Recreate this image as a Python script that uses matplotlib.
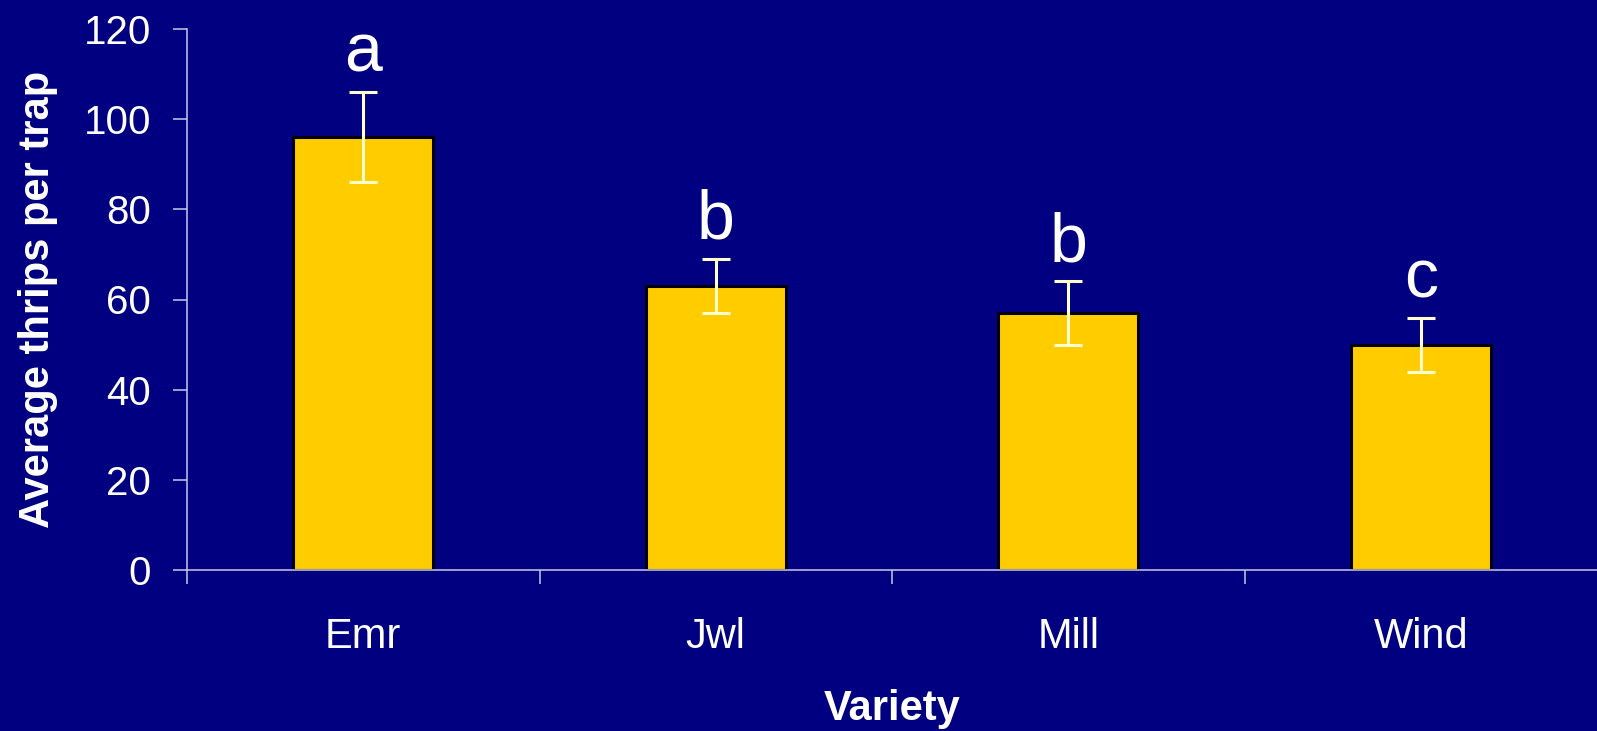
import matplotlib
matplotlib.use("Agg")
import matplotlib.pyplot as plt
import numpy as np

plt.rcParams['font.family'] = ['Liberation Sans', 'DejaVu Sans']

varieties = ["Emr", "Jwl", "Mill", "Wind"]
mean_thrips = [96, 63, 57, 50]
std_err = [10, 6, 7, 6]
group_letters = ["a", "b", "b", "c"]
y_ticks = [0, 20, 40, 60, 80, 100, 120]

navy = "#000080"
bar_yellow = "#FFCC00"
err_cream = "#FFFFCC"
axis_col = "#C8C8E4"

fig = plt.figure(figsize=(15.97, 7.31), dpi=100, facecolor=navy)
ax = fig.add_axes([187 / 1597, 161 / 731, 1 - 187 / 1597, (570 - 29) / 731])
ax.set_facecolor(navy)

x = np.arange(len(varieties))
ax.bar(x, mean_thrips, width=0.397, color=bar_yellow, edgecolor="black",
       linewidth=2.2, zorder=2)
ax.errorbar(x, mean_thrips, yerr=std_err, fmt="none", ecolor=err_cream,
            elinewidth=2.2, capsize=10, capthick=2.2, zorder=3)

# significance group letters above each error bar
for xi, m, e, lab in zip(x, mean_thrips, std_err, group_letters):
    ax.text(xi, m + e + 4.5, lab, ha="center", va="baseline",
            fontsize=49, color="white", zorder=4)

ax.set_xlim(-0.5, len(varieties) - 0.5)
ax.set_ylim(0, 120)

# y axis
ax.set_yticks(y_ticks)
ax.set_yticklabels([str(v) for v in y_ticks])
ax.tick_params(axis="y", direction="out", length=10, width=1.1,
               color=axis_col, labelcolor="white", labelsize=29, pad=16)

# x axis: boundary ticks as major, category names as minor
ax.set_xticks(np.arange(len(varieties)) - 0.5)
ax.set_xticklabels([])
ax.tick_params(axis="x", which="major", direction="out", length=10,
               width=1.1, color=axis_col)
ax.set_xticks(x, minor=True)
ax.set_xticklabels(varieties, minor=True)
ax.tick_params(axis="x", which="minor", length=0, labelcolor="white",
               labelsize=30, pad=34)

for side in ["top", "right"]:
    ax.spines[side].set_visible(False)
for side in ["left", "bottom"]:
    ax.spines[side].set_color(axis_col)
    ax.spines[side].set_linewidth(1.1)
    ax.spines[side].set_zorder(5)

ax.set_xlabel("Variety", fontsize=30, fontweight="bold", color="white",
              labelpad=23)
ax.set_ylabel("Average thrips per trap", fontsize=30, fontweight="bold",
              color="white", labelpad=18)

fig.savefig("out.png", dpi=100, facecolor=navy)
